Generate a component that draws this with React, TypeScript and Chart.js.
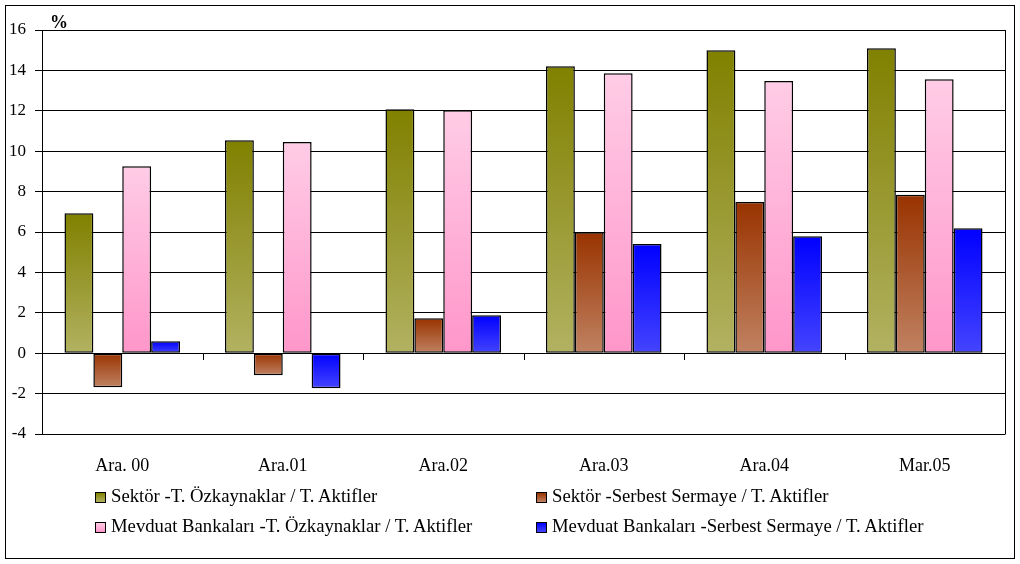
import React, { useEffect, useRef } from "react";
import { Chart, registerables } from "chart.js";

Chart.register(...registerables);

const categories = ["Ara. 00", "Ara.01", "Ara.02", "Ara.03", "Ara.04", "Mar.05"];
const sektorOzk = [6.93, 10.54, 12.08, 14.21, 15.0, 15.1];
const sektorSerbest = [-1.68, -1.09, 1.73, 5.99, 7.48, 7.84];
const mevduatOzk = [9.26, 10.45, 12.03, 13.86, 13.47, 13.56];
const mevduatSerbest = [0.59, -1.73, 1.88, 5.4, 5.79, 6.19];
const seriesLabels = [
  "Sektör -T. Özkaynaklar / T. Aktifler",
  "Sektör -Serbest Sermaye / T. Aktifler",
  "Mevduat Bankaları -T. Özkaynaklar / T. Aktifler",
  "Mevduat Bankaları -Serbest Sermaye / T. Aktifler",
];
const yTicks = [-4, -2, 0, 2, 4, 6, 8, 10, 12, 14, 16];

const palette = [
  { top: "#808000", bottom: "#B2B262", solid: "#999940" },
  { top: "#993300", bottom: "#C08262", solid: "#AD5A30" },
  { top: "#FFCCE6", bottom: "#FF96CA", solid: "#FFB2D8" },
  { top: "#0000FF", bottom: "#4444FF", solid: "#2222FF" },
];

const FONT = '"Liberation Serif", "Times New Roman", serif';

const gradFill = (top: string, bottom: string, solid: string) => (ctx: any) => {
  const chart = ctx.chart;
  const ys = chart.scales && chart.scales.y;
  if (ctx.type !== "data" || !ys || !chart.chartArea) return solid;
  const v = ctx.parsed && ctx.parsed.y !== undefined ? ctx.parsed.y : ctx.raw;
  const pTop = ys.getPixelForValue(Math.max(v, 0));
  const pBot = ys.getPixelForValue(Math.min(v, 0));
  if (!isFinite(pTop) || !isFinite(pBot) || pBot - pTop < 1) return top;
  const g = chart.ctx.createLinearGradient(0, pTop, 0, pBot);
  g.addColorStop(0, top);
  g.addColorStop(1, bottom);
  return g;
};

const framePlugin = {
  id: "framePlugin",
  afterDraw(chart: any) {
    const { ctx, chartArea } = chart;
    const xs = chart.scales.x;
    const ys = chart.scales.y;
    ctx.save();
    ctx.strokeStyle = "#000";
    ctx.lineWidth = 1;
    const rx = Math.round(chartArea.right) + 0.5;
    ctx.beginPath();
    ctx.moveTo(rx, chartArea.top);
    ctx.lineTo(rx, chartArea.bottom + 0.5);
    ctx.stroke();
    const zy = Math.round(ys.getPixelForValue(0));
    const n = categories.length;
    const w = (chartArea.right - chartArea.left) / n;
    for (let i = 1; i < n; i++) {
      const x = Math.round(xs.getPixelForValue(i) - w / 2) + 0.5;
      ctx.beginPath();
      ctx.moveTo(x, zy);
      ctx.lineTo(x, zy + 7);
      ctx.stroke();
    }
    ctx.restore();
  },
};

export default function App() {
  const ref = useRef<HTMLCanvasElement | null>(null);

  useEffect(() => {
    if (!ref.current) return;
    Chart.defaults.font.family = FONT;
    Chart.defaults.color = "#000";
    const data = [sektorOzk, sektorSerbest, mevduatOzk, mevduatSerbest];
    const chart = new Chart(ref.current, {
      type: "bar",
      data: {
        labels: categories,
        datasets: data.map((d, i) => ({
          label: seriesLabels[i],
          data: d,
          backgroundColor: gradFill(palette[i].top, palette[i].bottom, palette[i].solid),
          borderColor: "#000",
          borderWidth: 1.5,
          borderSkipped: false,
          categoryPercentage: 0.72,
          barPercentage: 1,
        })),
      },
      options: {
        responsive: false,
        animation: false,
        events: [],
        layout: { padding: { left: 0, top: 30, right: 15, bottom: 0 } },
        plugins: {
          legend: { display: false },
          tooltip: { enabled: false },
          title: { display: false },
        },
        scales: {
          x: {
            grid: { display: false, drawTicks: false },
            border: { display: false },
            ticks: { padding: 21, font: { family: FONT, size: 18 }, color: "#000", maxRotation: 0 },
            afterFit: (s: any) => {
              s.height = 130;
            },
          },
          y: {
            min: -4,
            max: 16,
            afterBuildTicks: (s: any) => {
              s.ticks = yTicks.map((v) => ({ value: v }));
            },
            grid: { color: "#000", lineWidth: 1, drawTicks: true, tickLength: 7, tickColor: "#000" },
            border: { display: true, color: "#000", width: 1 },
            ticks: { padding: 9, font: { family: FONT, size: 17 }, color: "#000" },
            afterFit: (s: any) => {
              s.width = 42;
            },
          },
        },
      },
      plugins: [framePlugin],
    });
    return () => chart.destroy();
  }, []);

  const legendCols = [95, 536];
  const legendRows = [492, 522];
  const order = [
    [0, 0, 0],
    [1, 1, 0],
    [2, 0, 1],
    [3, 1, 1],
  ];

  return (
    <div
      style={{
        position: "fixed",
        left: 0,
        top: 0,
        width: 1020,
        height: 564,
        background: "#fff",
        fontFamily: FONT,
        color: "#000",
      }}
    >
      <canvas ref={ref} width={1020} height={564} style={{ position: "absolute", left: 0, top: 0, width: 1020, height: 564 }} />
      <div
        style={{
          position: "absolute",
          left: 5,
          top: 5,
          width: 1010,
          height: 554,
          border: "1px solid #000",
          boxSizing: "border-box",
          pointerEvents: "none",
        }}
      />
      <div
        style={{
          position: "absolute",
          left: 50,
          top: 13,
          fontSize: 18,
          fontWeight: "bold",
          lineHeight: "18px",
        }}
      >
        %
      </div>
      {order.map(([si, c, r]) => (
        <React.Fragment key={si}>
          <div
            style={{
              position: "absolute",
              left: legendCols[c],
              top: legendRows[r],
              width: 11,
              height: 11,
              boxSizing: "border-box",
              border: "1px solid #000",
              background: `linear-gradient(${palette[si].top}, ${palette[si].bottom})`,
            }}
          />
          <div
            style={{
              position: "absolute",
              left: legendCols[c] + 16,
              top: legendRows[r] - 6,
              fontSize: 18.7,
              lineHeight: "20px",
              whiteSpace: "nowrap",
            }}
          >
            {seriesLabels[si]}
          </div>
        </React.Fragment>
      ))}
    </div>
  );
}
